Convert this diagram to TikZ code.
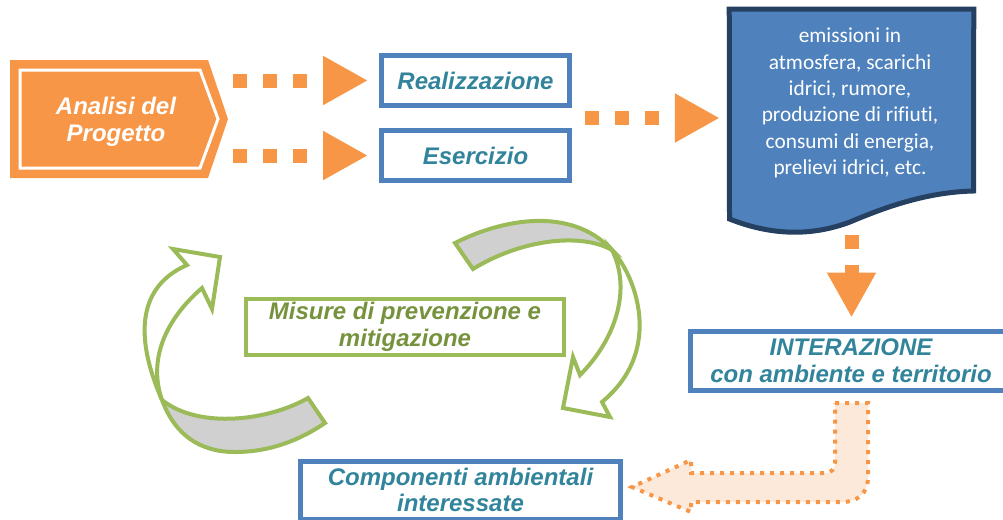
\documentclass[tikz,border=0pt]{standalone}
\usepackage{fontspec}
\setmainfont{Liberation Sans}
\newfontfamily\carlito[Ligatures=NoCommon]{Carlito}
\usetikzlibrary{arrows.meta,calc,positioning}
\definecolor{arancio}{HTML}{F79646}
\definecolor{arancioch}{HTML}{FDE9D9}
\definecolor{blu}{HTML}{4F81BD}
\definecolor{blusc}{HTML}{254061}
\definecolor{ottanio}{HTML}{31849B}
\definecolor{verde}{HTML}{9BBB59}
\definecolor{verdesc}{HTML}{76923C}
\definecolor{grigio}{HTML}{D0D0D0}

\begin{document}
\begin{tikzpicture}[x=0.75pt, y=-0.75pt]
    \tikzstyle{every node}=[inner sep=0pt, align=center, font=\bfseries\itshape\fontsize{18}{20.5}\selectfont]
    \tikzstyle{bluebox}=[draw=blu, line width=3.75pt, text=ottanio, minimum width=141pt, minimum height=37.5pt]
    \tikzstyle{greenbox}=[draw=verde, line width=3pt, text=verdesc, minimum width=238.5pt, minimum height=42pt]
    \tikzstyle{dotarrow}=[draw=arancio, line width=10.5pt, dash pattern=on 10.5pt off 12pt, -{Triangle[length=33.75pt, width=34.5pt]}]
    \tikzstyle{loopback}=[draw=verde, line width=3pt, fill=grigio]
    \tikzstyle{loopfront}=[draw=verde, line width=3pt, fill=white]
    \tikzstyle{bentarrow}=[draw=arancio, fill=arancioch, line width=3pt, dash pattern=on 3pt off 4.5pt]

    \useasboundingbox (0,0) rectangle (1003,519);

% Analisi del Progetto, the orange pointer
    \fill[arancio] (10,60) -- (208,60) -- (228,119) -- (208,178) -- (10,178) -- cycle;
    \draw[white, line width=2.25pt] (20,70) -- (200,70) -- (218,119) -- (200,168) -- (20,168) -- cycle;
    \coordinate (analisi tip) at (228,119);
    \node[text=white] (analisi) at (116,122) {Analisi del\\Progetto};

    \node[bluebox] (real) at (475.5,80.5) {Realizzazione};
    \node[bluebox] (eser) at (475.5,155.5) {Esercizio};

% document shape with the list of effects
    \node[minimum width=183pt, minimum height=156.75pt] (doc) at (851.5,114) {};
    \draw[draw=blusc, fill=blu, line width=3.75pt] (doc.north west) -- (doc.north east) -- (973.5,191) .. controls (930,192) and (890,205) .. (850,222) .. controls (810,237) and (770,235) .. (729.5,219) -- cycle;
    \node[font=\carlito\fontsize{16}{19.7}\selectfont, text=white] (effetti) at (850,103) {emissioni in\\atmosfera, scarichi\\idrici, rumore,\\produzione di rifiuti,\\consumi di energia,\\prelievi idrici, etc.};

    \node[bluebox, minimum width=241.5pt, minimum height=44.25pt] (inter) at (851,360.5) {INTERAZIONE\\con ambiente e territorio};
    \node[greenbox] (misure) at (405,327) {Misure di prevenzione e\\mitigazione};
    \node[bluebox, minimum width=240pt, minimum height=43.5pt, font=\bfseries\itshape\fontsize{18}{19}\selectfont] (comp) at (460.5,490) {Componenti ambientali\\interessate};

% the two curved arrows round the mitigation box
    \draw[loopback] (162,400) .. controls (175,435) and (200,452) .. (235,452) .. controls (270,452) and (300,440) .. (325,423) -- (308,398) .. controls (270,420) and (200,430) .. (162,400) -- cycle;
    \draw[loopfront] (162,400) .. controls (140,350) and (130,290) .. (187,265) -- (173,249) -- (220,257) -- (212,309) -- (202,288) .. controls (165,320) and (148,360) .. (162,400) -- cycle;
    \draw[loopback] (455,243) .. controls (500,220) and (570,205) .. (612,250) .. controls (580,232) and (520,240) .. (473,269) -- cycle;
    \draw[loopfront] (612,250) .. controls (635,275) and (665,350) .. (602,402) -- (610,417) -- (563,408) -- (573,357) -- (580,375) .. controls (615,340) and (632,290) .. (612,250) -- cycle;

% bent arrow from the interaction down to the components
    \draw[bentarrow] (835,403) -- (868,403) -- (868,477) .. controls (868,493) and (858,502) .. (842,502) -- (691,502) -- (691,512) -- (632,487) -- (691,460) -- (691,473) -- (825,473) .. controls (831,473) and (835,469) .. (835,463) -- cycle;

% dotted orange arrows
    \draw[dotarrow, shorten <=3.75pt, shorten >=8.25pt] (analisi tip |- real.west) -- (real.west);
    \draw[dotarrow, shorten <=3.75pt, shorten >=8.25pt] (analisi tip |- eser.west) -- (eser.west);
    \coordinate (fasi) at ($(real.east)!0.5!(eser.east)$);
    \draw[dotarrow, shorten <=9.75pt, shorten >=7.1pt] (fasi) -- (fasi -| doc.west);
    \draw[dotarrow, shorten <=12.4pt, shorten >=8.25pt] (doc.south) -- (doc.south |- inter.north);

\end{tikzpicture}
\end{document}
